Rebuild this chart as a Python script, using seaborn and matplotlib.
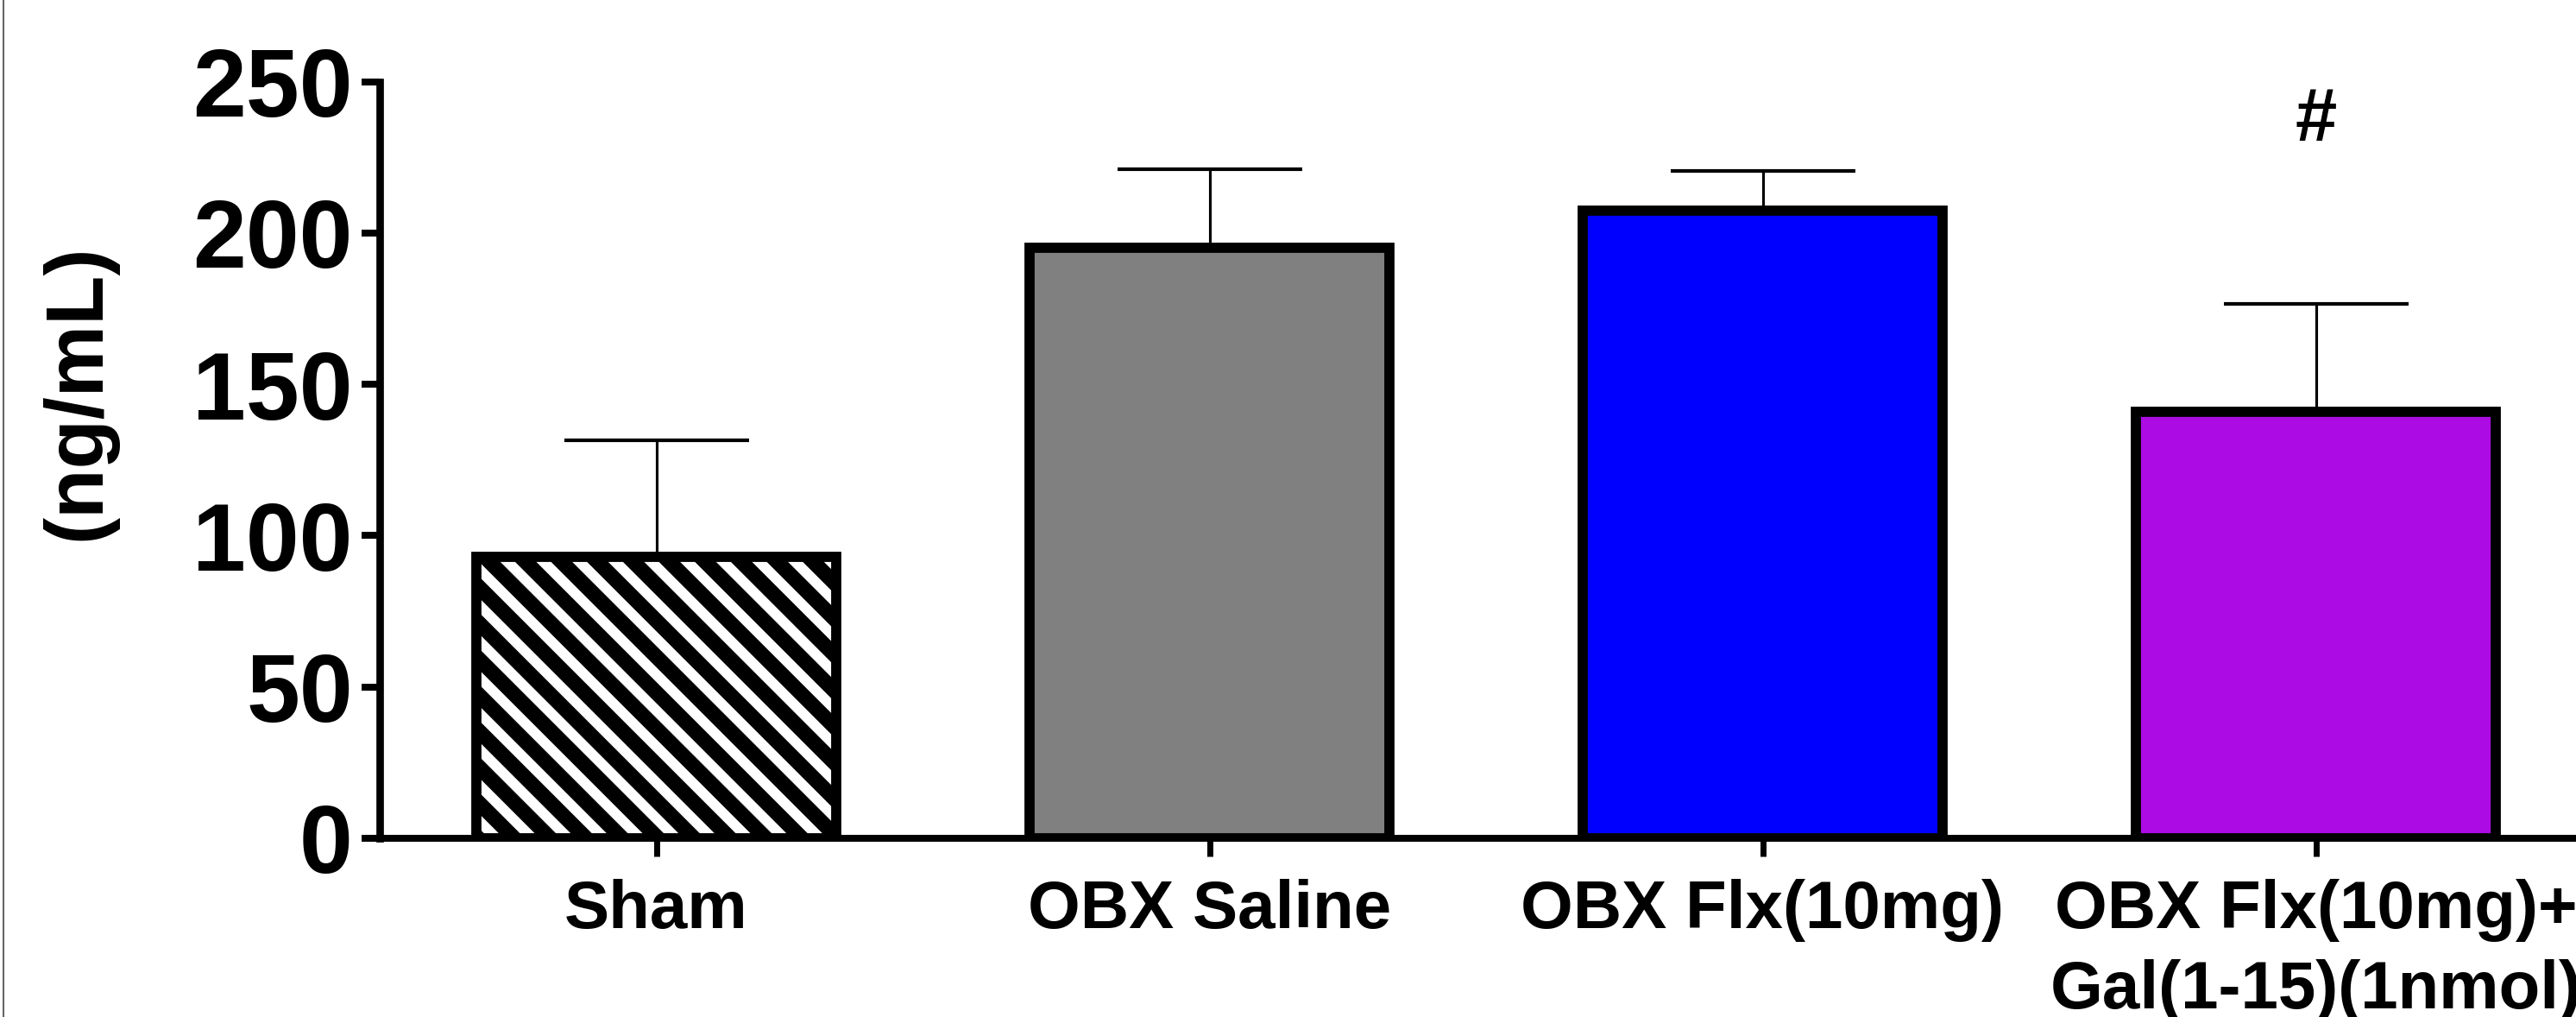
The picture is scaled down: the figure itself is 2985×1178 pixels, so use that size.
import numpy as np
import matplotlib
matplotlib.use("Agg")
import matplotlib.pyplot as plt
from matplotlib.lines import Line2D
import seaborn as sns

# valores
grupos = ["Sham", "OBX Saline", "OBX Flx(10mg)", "OBX Flx(10mg)+\nGal(1-15)(1nmol)"]
medias = [93, 195, 207.5, 141]
errores = [38.5, 26, 13, 35.5]
colores = ["#FFFFFF", "#808080", "#0000FF", "#AD0BE3"]
marcas = ["", "", "", "#"]
altura_marca = 237
y_ticks = [0, 50, 100, 150, 200, 250]

sns.set_style("white")
plt.rcParams["font.family"] = ["Liberation Sans", "DejaVu Sans"]
plt.rcParams["font.weight"] = "bold"
plt.rcParams["text.color"] = "black"
plt.rcParams["axes.labelcolor"] = "black"
plt.rcParams["axes.edgecolor"] = "black"
plt.rcParams["xtick.color"] = "black"
plt.rcParams["ytick.color"] = "black"
plt.rcParams["hatch.linewidth"] = 5.0
plt.rcParams["hatch.color"] = "black"

W, H, DPI = 2985, 1178, 250
fig = plt.figure(figsize=(W / DPI, H / DPI), dpi=DPI)
ax = fig.add_axes([440 / W, 207 / H, 2564 / W, 876.5 / H])

sns.barplot(x=grupos, y=medias, hue=grupos, palette=colores, legend=False,
            width=0.65, edgecolor="black", linewidth=3.4, saturation=1, ax=ax)
ax.patches[0].set_hatch("\\\\")

# solo la rama superior del error
ax.errorbar(x=np.arange(len(grupos)), y=medias,
            yerr=[np.zeros(len(grupos)), errores], fmt="none",
            ecolor="black", elinewidth=0.9, capsize=30.75, capthick=1.2, zorder=0.5)

for i, m in enumerate(marcas):
    if m:
        ax.text(i, altura_marca, m, ha="center", va="center",
                fontsize=25, fontweight="bold", color="black")

ax.set_xlim(-0.5, len(grupos) - 0.5)
ax.set_ylim(0, 250)
ax.set_yticks(y_ticks)
ax.set_xlabel("")
ax.set_ylabel("(ng/mL)", fontsize=27, fontweight="bold", color="black")
ax.yaxis.set_label_coords(-0.119, 0.589)

for lado in ["top", "right"]:
    ax.spines[lado].set_visible(False)
ax.spines["left"].set_linewidth(2.5)
ax.spines["bottom"].set_linewidth(2.3)

ax.tick_params(axis="y", length=6, width=2.3, labelsize=32, pad=3, left=True, colors="black")
ax.tick_params(axis="x", length=6, width=2.0, labelsize=22.5, pad=7.5, bottom=True, colors="black")
for lbl in ax.get_xticklabels() + ax.get_yticklabels():
    lbl.set_fontweight("bold")
for lbl in ax.get_xticklabels():
    lbl.set_linespacing(1.35)

# borde fino a la izquierda de la figura
fig.add_artist(Line2D([0.0012, 0.0012], [0, 1], transform=fig.transFigure,
                      color="#666666", lw=0.6))

fig.savefig("out.png", dpi=DPI)
plt.close(fig)
